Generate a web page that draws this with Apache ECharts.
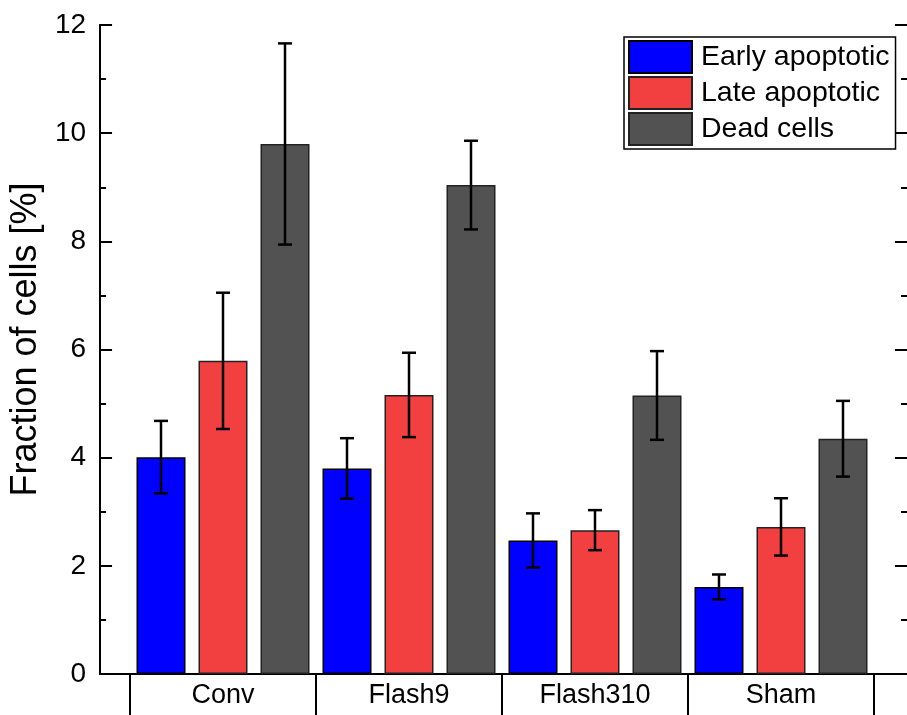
<!DOCTYPE html>
<html>
<head>
<meta charset="utf-8">
<script src="https://cdn.jsdelivr.net/npm/echarts@6/dist/echarts.min.js"></script>
<style>html,body{margin:0;padding:0;background:#fff;}#c{width:907px;height:715px;}</style>
</head>
<body>
<div id="c"></div>
<script>
const categories = ['Conv', 'Flash9', 'Flash310', 'Sham'];
const seriesNames = ['Early apoptotic', 'Late apoptotic', 'Dead cells'];
const earlyValues = [4.01, 3.80, 2.47, 1.61];
const earlyErrors = [0.67, 0.56, 0.50, 0.23];
const lateValues = [5.79, 5.16, 2.66, 2.72];
const lateErrors = [1.26, 0.78, 0.37, 0.53];
const deadValues = [9.80, 9.04, 5.15, 4.35];
const deadErrors = [1.86, 0.82, 0.82, 0.70];
const yTicks = { min: 0, max: 12, interval: 2, minorInterval: 1 };

const colors = ['#0000ff', '#f24040', '#525252'];
const borders = ['#000000', '#222222', '#222222'];
const valueSets = [earlyValues, lateValues, deadValues];
const errorSets = [earlyErrors, lateErrors, deadErrors];
const FONT = 'Liberation Sans, Arial, sans-serif';
const BAR_W = 49, BAR_GAP = 13;
const MAJOR = 12, MINOR = 6;

const chart = echarts.init(document.getElementById('c'), null, { renderer: 'canvas' });

const barSeries = seriesNames.map((name, i) => ({
  name, type: 'bar', xAxisIndex: 2, yAxisIndex: 2,
  barWidth: BAR_W, barGap: (BAR_GAP / BAR_W * 100) + '%',
  itemStyle: { color: colors[i], borderColor: borders[i], borderWidth: 1.5 },
  data: valueSets[i], z: 2
}));

const errSeries = seriesNames.map((name, i) => ({
  type: 'custom', xAxisIndex: 2, yAxisIndex: 2, z: 5, silent: true,
  data: categories.map((c, k) => [k, valueSets[i][k], errorSets[i][k]]),
  renderItem: function (params, api) {
    const k = api.value(0), v = api.value(1), e = api.value(2);
    const off = (i - 1) * (BAR_W + BAR_GAP);
    const top = api.coord([k, v + e]);
    const bot = api.coord([k, v - e]);
    const x = top[0] + off;
    const st = { stroke: '#000', lineWidth: 2.5 };
    return {
      type: 'group', children: [
        { type: 'line', shape: { x1: x, y1: top[1], x2: x, y2: bot[1] }, style: st },
        { type: 'line', shape: { x1: x - 7, y1: top[1], x2: x + 7, y2: top[1] }, style: st },
        { type: 'line', shape: { x1: x - 7, y1: bot[1], x2: x + 7, y2: bot[1] }, style: st }
      ]
    };
  }
}));

const frameLine = { show: true, lineStyle: { color: '#000', width: 2 } };

// inward-pointing tick axes (emulated by offsetting outward ticks into the plot)
function tickAxis(position, interval, len) {
  return {
    gridIndex: 0, type: 'value', min: yTicks.min, max: yTicks.max, interval: interval,
    position: position, offset: -len,
    axisLine: { show: false },
    axisTick: { show: true, length: len, lineStyle: { color: '#000', width: 2 } },
    axisLabel: { show: false }, splitLine: { show: false }
  };
}

chart.setOption({
  animation: false,
  backgroundColor: '#fff',
  textStyle: { fontFamily: FONT },
  grid: [
    { left: 100, top: 25, width: 812, height: 649 },
    { left: 130, top: 25, width: 744, height: 649 }
  ],
  legend: {
    data: seriesNames, left: 624, top: 37, orient: 'vertical', icon: 'rect',
    itemWidth: 63, itemHeight: 32, itemGap: 2,
    padding: [3, 6, 3, 4], borderColor: '#000', borderWidth: 1.5,
    textStyle: { fontSize: 28.5, lineHeight: 32, color: '#000', fontFamily: FONT, padding: [0, 0, 0, 4] }
  },
  xAxis: [
    { gridIndex: 0, type: 'value', min: 0, max: 1, position: 'bottom', axisLine: frameLine,
      axisTick: { show: false }, axisLabel: { show: false }, splitLine: { show: false } },
    { gridIndex: 0, type: 'value', min: 0, max: 1, position: 'top', axisLine: frameLine,
      axisTick: { show: false }, axisLabel: { show: false }, splitLine: { show: false } },
    { gridIndex: 1, type: 'category', data: categories, position: 'bottom',
      axisLine: { show: false },
      axisTick: { show: true, interval: 0, length: 42, lineStyle: { color: '#000', width: 2 } },
      axisLabel: { interval: 0, fontSize: 27, color: '#000', margin: 8, fontFamily: FONT },
      splitLine: { show: false } }
  ],
  yAxis: [
    { gridIndex: 0, type: 'value', min: yTicks.min, max: yTicks.max, interval: yTicks.interval,
      position: 'left', axisLine: frameLine,
      axisTick: { show: false },
      axisLabel: { fontSize: 28, color: '#000', margin: 14, fontFamily: FONT },
      splitLine: { show: false },
      name: 'Fraction of cells [%]', nameLocation: 'middle', nameGap: 51,
      nameTextStyle: { fontSize: 36, color: '#000', fontFamily: FONT, padding: [0, 0, 0, 20] } },
    { gridIndex: 0, type: 'value', min: yTicks.min, max: yTicks.max, interval: yTicks.interval,
      position: 'right', axisLine: frameLine,
      axisTick: { show: false }, axisLabel: { show: false }, splitLine: { show: false } },
    { gridIndex: 1, type: 'value', min: yTicks.min, max: yTicks.max, show: false },
    tickAxis('left', yTicks.interval, MAJOR),
    tickAxis('left', yTicks.minorInterval, MINOR),
    tickAxis('right', yTicks.interval, MAJOR),
    tickAxis('right', yTicks.minorInterval, MINOR)
  ],
  series: barSeries.concat(errSeries)
});
</script>
</body>
</html>
